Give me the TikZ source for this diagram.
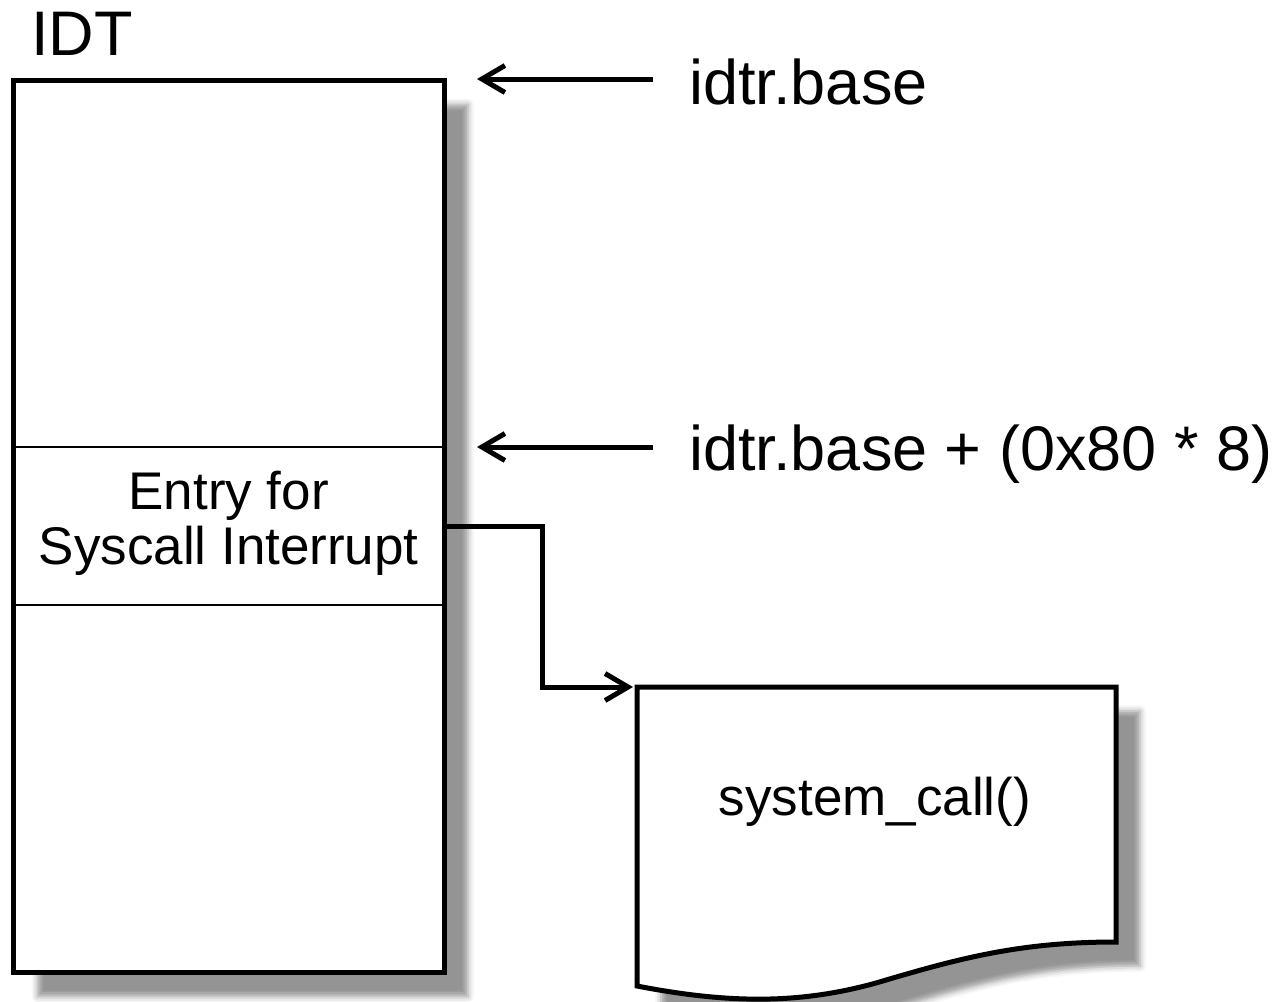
\documentclass[tikz,border=0pt]{standalone}
\usepackage{fontspec}
\setmainfont{Liberation Sans}
\usetikzlibrary{arrows.meta,shadows.blur,calc}

\tikzset{
  softshadow/.style={blur shadow={shadow xshift=12pt, shadow yshift=-12pt,
      shadow blur radius=3pt, shadow opacity=42}},
  heavy/.style={line width=2.5pt},
  ptr/.style={heavy, -{Straight Barb[length=11.5pt, width=13.5pt]}},
  biglabel/.style={font=\fontsize{31.5pt}{36pt}\selectfont, inner sep=0pt},
  smalllabel/.style={font=\fontsize{26.5pt}{27.5pt}\selectfont, inner sep=0pt},
}

\begin{document}
\begin{tikzpicture}[x=0.5pt, y=-0.5pt]
  \useasboundingbox (0,0) rectangle (1287,1002);

  % interrupt descriptor table
  \node[heavy, draw, fill=white, softshadow, inner sep=0pt,
        minimum width=215.25pt, minimum height=446pt] (idt) at (228.75,526.5) {};
  \node[draw, line width=1pt, inner sep=0pt, smalllabel,
        minimum width=215.25pt, minimum height=79pt] (entry) at (228.75,526)
    {\begin{tabular}{@{}c@{}}Entry for\\Syscall Interrupt\end{tabular}};
  \node[draw, heavy, inner sep=0pt, minimum width=215.25pt, minimum height=446pt]
    (idtframe) at (idt.center) {};
  \node[biglabel, anchor=base west] (idtlbl) at (31,55) {IDT};

  % pointers into the table
  \node[biglabel, anchor=base west] (baselbl) at (689,104) {idtr.base};
  \node[biglabel, anchor=base west] (offlbl) at (689,470) {idtr.base + (0x80 * 8)};
  \coordinate (tailA) at (653,79);
  \coordinate (tipA) at (477,79);
  \coordinate (tailB) at (653,447);
  \coordinate (tipB) at (477,447);
  \draw[ptr] (tailA) -- (tipA);
  \draw[ptr] (tailB) -- (tipB);

  % handler routine (document shape)
  \coordinate (docnw) at (637,687);
  \path[heavy, draw, fill=white, softshadow]
    (docnw) -- (1116,687) -- (1116,942)
    .. controls (1020,942) and (960,958) .. (876,983)
    .. controls (800,1004) and (730,1004) .. (637,986) -- cycle;
  \node[smalllabel, anchor=base] (sys) at (875,815) {system\_call()};

  % jump from the entry to the handler
  \draw[ptr, shorten >=2pt] (entry.east) -- ++(97,0) |- (docnw);
\end{tikzpicture}
\end{document}
